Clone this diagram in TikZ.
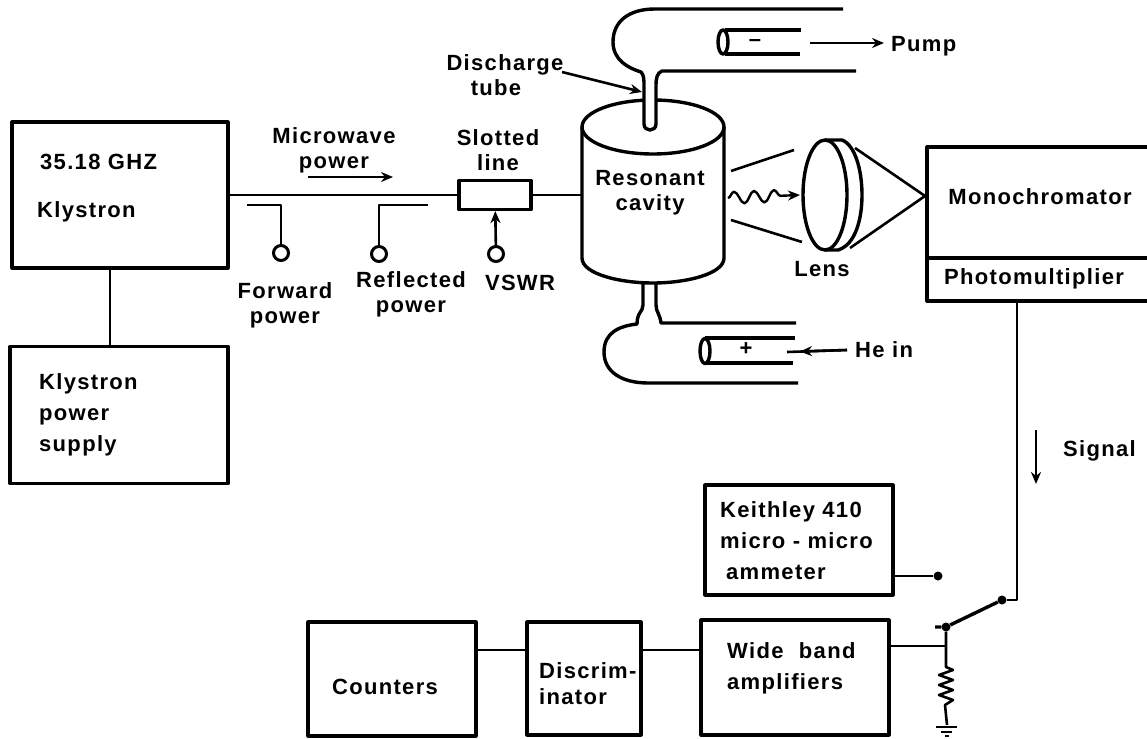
\documentclass[tikz,border=0pt]{standalone}
\usepackage{fontspec}
\setmainfont[LetterSpace=6]{Liberation Sans}
\usetikzlibrary{arrows.meta,calc}
\usetikzlibrary{decorations.pathmorphing}

\begin{document}
\begin{tikzpicture}[x=1pt,y=-1pt,>={Stealth[length=12pt,width=10pt]},line join=round,
  blockbox/.style={draw,line width=3.2pt,inner sep=0pt},
  wire/.style={line width=2.6pt},
  glass/.style={line width=3.4pt},
  lbl/.style={font=\fontsize{22}{25}\selectfont\bfseries,align=center,inner sep=0pt},
  lblleft/.style={lbl,anchor=west,align=left},
  probe/.style={draw,circle,line width=3pt,minimum size=15pt,inner sep=0pt},
  dotend/.style={fill,circle,minimum size=9pt,inner sep=0pt}]
\useasboundingbox (0,0) rectangle (1147,738);
% boxes, the last two run off the page on the right
\node[blockbox,minimum width=216,minimum height=146] (klystron) at (120,195) {};
\node[blockbox,minimum width=218,minimum height=137] (supply) at (119,415) {};
\node[blockbox,minimum width=72,minimum height=29] (slotline) at (495,195) {};
\node[blockbox,minimum width=188,minimum height=110] (keithley) at (799,540) {};
\node[blockbox,minimum width=188,minimum height=115] (wideband) at (795,677.5) {};
\node[blockbox,minimum width=114,minimum height=113] (discrim) at (584,678.5) {};
\node[blockbox,minimum width=168,minimum height=114] (counters) at (392,679) {};
\node[blockbox,minimum width=228,minimum height=111] (monochrom) at (1041,202.5) {};
\node[blockbox,minimum width=228,minimum height=43] (photomult) at (1041,279.5) {};
% box labels
\node[lblleft] (lbgunn) at (40,162) {35.18 GHZ};
\node[lblleft] (lbklys) at (37,212) {Klystron};
\node[lblleft] (lbsupply) at (39,415) {Klystron\\[6pt]power\\[6pt]supply};
\node[lbl] (lbmono) at (1040,197) {Monochromator};
\node[lbl] (lbphoto) at (1034,279) {Photomultiplier};
\node[lblleft] (lbkeith) at (720,541) {Keithley 410\\[6pt]micro - micro\\[6pt]\hspace*{6pt}ammeter};
\node[lblleft] (lbwide) at (727,668) {Wide\hspace{8pt} band\\[6pt]amplifiers};
\node[lblleft] (lbdisc) at (539,684) {Discrim-\\[1pt]inator};
\node[lbl] (lbcount) at (385,687) {Counters};
% wave guide and probes
\coordinate (cavleft) at (582,195);
\draw[wire] (klystron) -- (slotline);
\draw[wire] (slotline) -- (cavleft);
\draw[wire] ([xshift=-10pt]klystron.south) -- ([xshift=-9pt]supply.north);
\node[lbl] (lbmicro) at (334,150) {Microwave\\power};
\node[lbl] (lbslot) at (498,150) {Slotted\\line};
\coordinate (pwra) at (308,177);
\coordinate (pwrb) at (393,177);
\draw[->,wire] (pwra) -- (pwrb);
\node[probe] (fwdprobe) at (281,253) {};
\node[probe] (refprobe) at (379,254) {};
\node[probe] (vswrprobe) at (496,254) {};
\coordinate (fwdstub) at (247,205);
\coordinate (refstub) at (428,205);
\draw[wire] (fwdstub) -| (fwdprobe);
\draw[wire] (refstub) -| (refprobe);
\draw[->,wire] (vswrprobe) -- (slotline);
\node[lbl] (lbfwd) at (285,305) {Forward\\power};
\node[lbl] (lbref) at (411,294) {Reflected\\power};
\node[lbl] (lbvswr) at (520,283) {VSWR};
% cavity
\draw[glass] (582,127) -- (582,258) .. controls (582,274) and (620,283) .. (653,283) .. controls (686,283) and (724,274) .. (724,258) -- (724,127);
\draw[glass] (653,127) ellipse (71 and 27);
\node[lbl] (lbcav) at (650,193) {Resonant\\cavity};
% discharge tube, top side
\draw[glass] (843,9) -- (655,9) .. controls (628,9) and (613,22) .. (613,42) .. controls (613,60) and (628,68) .. (641,72)
  .. controls (644,75) and (644,80) .. (644,86);
\draw[glass] (656,86) .. controls (656,78) and (657,73) .. (662,71) -- (856,71);
\draw[glass,fill=white] (644,86) -- (644,124) .. controls (644,132) and (656,132) .. (656,124) -- (656,86);
\draw[glass] (801,30) -- (725,30) (800,54) -- (725,54);
\draw[glass,fill=white] (723,42) ellipse (5 and 12);
\node[lbl] (lbminus) at (755,43) {--};
\coordinate (pumpa) at (810,43);
\node[lblleft] (lbpump) at (891,46) {Pump};
\draw[->,wire,shorten >=7pt] (pumpa) -- (lbpump.west |- pumpa);
\node[lbl] (lbtube) at (505,75) {Discharge\\tube\hspace*{18pt}};
\coordinate (tubeout) at (562,72);
\coordinate (tubein) at (642,92);
\draw[->,wire] (tubeout) -- (tubein);
% discharge tube, bottom side
\draw[glass] (643,284) -- (643,305) .. controls (643,312) and (637,312) .. (637,324) .. controls (620,326) and (604,332) .. (604,352)
  .. controls (604,372) and (622,383) .. (648,383) -- (798,383);
\draw[glass] (656,284) -- (656,305) .. controls (656,312) and (660,314) .. (661,323) -- (796,323);
\draw[glass] (795,338) -- (705,338) (793,363) -- (705,363);
\draw[glass,fill=white] (705,351) ellipse (5 and 12.5);
\node[lbl] (lbplus) at (746,349) {+};
\node[lblleft] (lbhe) at (855,350) {He in};
\coordinate (hetip) at (787,352);
\draw[wire] (lbhe.west) ++(-8,0) -- (hetip);
\draw[->,wire] (lbhe.west) ++(-8,0) -- (800,351.5);
% light to the lens
\coordinate (raya) at (731,171);
\coordinate (rayb) at (794,150);
\coordinate (rayc) at (731,220);
\coordinate (rayd) at (802,242);
\draw[wire] (raya) -- (rayb) (rayc) -- (rayd);
\coordinate (wavea) at (728,198);
\coordinate (waveb) at (800,195);
\draw[->,line width=2.4pt,decorate,decoration={snake,amplitude=6pt,segment length=20pt,post length=16pt}] (wavea) -- (waveb);
\draw[glass] (825,195) ellipse (22 and 55);
\draw[glass] (825,140) -- (842,140) .. controls (855,145) and (862,170) .. (862,195) .. controls (862,220) and (855,245) .. (838,250) -- (825,250);
\node[lbl] (lblens) at (822,269) {Lens};
\coordinate (conea) at (855,148);
\coordinate (coneb) at (850,248);
\coordinate (conetip) at (925,196);
\draw[wire] (conea) -- (conetip) -- (coneb);
% signal path
\coordinate (swtop) at (1017,600);
\node[dotend] (swdot) at (1002,600) {};
\node[dotend] (swbase) at (946,627) {};
\node[dotend] (meterdot) at (938,576) {};
\draw[wire] (photomult.south -| swtop) -- (swtop) -- (swdot);
\draw[line width=3.4pt] (swdot) -- (swbase) -- ++(-11,0);
\draw[wire] (keithley.east |- meterdot) -- (meterdot);
\coordinate (taptop) at (946,646);
\draw[wire] (wideband.east |- taptop) -- (taptop);
\draw[wire] (swbase) -- (946,667) -- (953,670) -- (939,675) -- (953,680) -- (939,685) -- (953,690) -- (939,695) -- (953,700) -- (945,705) -- (947,725);
\draw[wire] (936,727) -- (957,727) (941,732) -- (952,732);
\draw[wire] (945,736) -- (949,736);
\coordinate (siga) at (1036,430);
\coordinate (sigb) at (1036,484);
\draw[->,wire] (siga) -- (sigb);
\node[lblleft] (lbsig) at (1063,451) {Signal};
% box to box
\draw[wire] ([yshift=29pt]counters.east) -- ([yshift=28.5pt]discrim.west);
\draw[wire] ([yshift=28.5pt]discrim.east) -- ([yshift=27.5pt]wideband.west);
\end{tikzpicture}
\end{document}
